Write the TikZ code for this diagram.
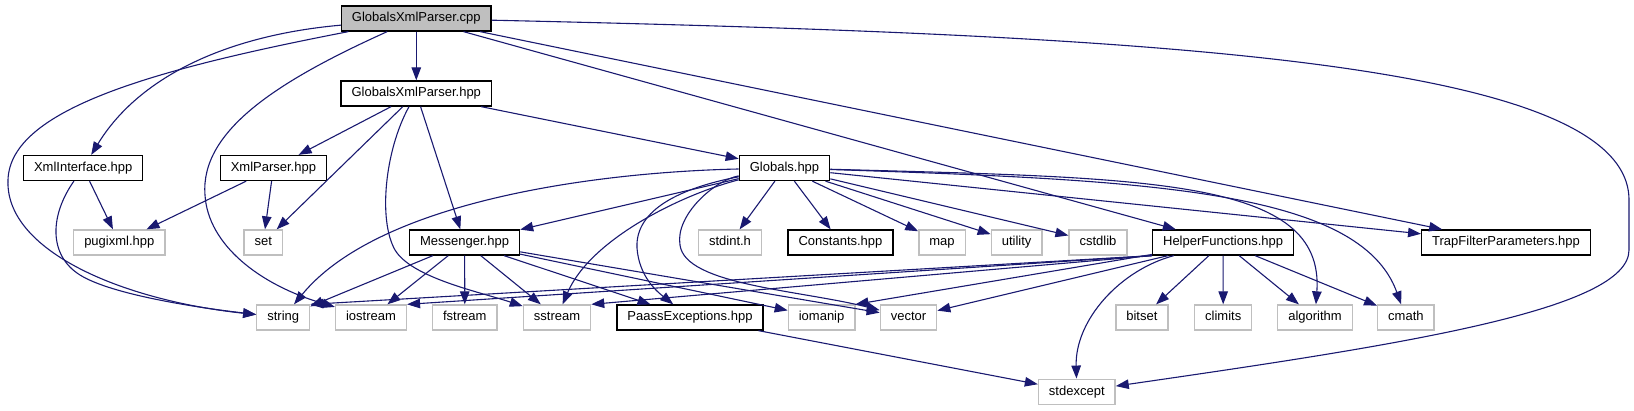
\documentclass[tikz,border=0pt]{standalone}
\usepackage{fontspec}
\setmainfont{Liberation Sans}
\usepackage{xcolor}
\usepackage{tikz}
\usetikzlibrary{
    arrows.meta,
    positioning
}
\definecolor{edgeblue}{HTML}{191970}
\definecolor{sysborder}{HTML}{BFBFBF}
\definecolor{rootfill}{HTML}{BFBFBF}
\tikzset{
    header/.style={
        rectangle, draw=black, fill=white,
        line width=1.3pt, minimum height=25pt,
        inner xsep=10.5pt, inner ysep=0pt,
        text height=9.5pt, text depth=2.8pt,
        font=\fontsize{13}{15}\selectfont
    },
    system header/.style={
        header, draw=sysborder
    },
    root file/.style={
        header, fill=rootfill
    },
    include/.style={
        -{Triangle[length=13pt, width=9.5pt]}, line width=1.1pt, color=edgeblue
    },
}

\begin{document}
\begin{tikzpicture}[x=1pt, y=-1pt]
    \useasboundingbox (0,0) rectangle (1634,411);

    % top rows
    \node[root file] (cpp) at (416.3,18.5) {GlobalsXmlParser.cpp};
    \node[header] (gxhpp) at (416.3,93.5) {GlobalsXmlParser.hpp};
    \node[header] (xi) at (83.2,168) {XmlInterface.hpp};
    \node[header] (xp) at (273.4,168) {XmlParser.hpp};
    \node[header] (glob) at (784.5,168) {Globals.hpp};

    % middle row
    \node[system header] (pug) at (119.3,242.5) {pugixml.hpp};
    \node[system header] (set) at (263.2,242.5) {set};
    \node[header] (msg) at (464.6,242.5) {Messenger.hpp};
    \node[system header] (stdint) at (730,242.5) {stdint.h};
    \node[header] (const) at (840.5,242.5) {Constants.hpp};
    \node[system header] (map) at (942,242.5) {map};
    \node[system header] (util) at (1016.6,242.5) {utility};
    \node[system header] (cstdlib) at (1098,242.5) {cstdlib};
    \node[header] (helper) at (1223.1,242.5) {HelperFunctions.hpp};
    \node[header] (trap) at (1506,242.5) {TrapFilterParameters.hpp};

    % bottom rows
    \node[system header] (string) at (283.2,317.5) {string};
    \node[system header] (iostream) at (371,317.5) {iostream};
    \node[system header] (fstream) at (464.8,317.5) {fstream};
    \node[system header] (sstream) at (557,317.5) {sstream};
    \node[header] (paass) at (690,317.5) {PaassExceptions.hpp};
    \node[system header] (iomanip) at (821.6,317.5) {iomanip};
    \node[system header] (vector) at (908.5,317.5) {vector};
    \node[system header] (bitset) at (1141.9,317.5) {bitset};
    \node[system header] (climits) at (1223.2,317.5) {climits};
    \node[system header] (algorithm) at (1315,317.5) {algorithm};
    \node[system header] (cmath) at (1405.9,317.5) {cmath};
    \node[system header] (stdexcept) at (1076.8,391.7) {stdexcept};

    % GlobalsXmlParser.cpp
    \draw[include] (cpp) -- (gxhpp);
    \draw[include] (cpp) .. controls (230,35) and (140,75) .. (xi);
    \draw[include] (cpp) .. controls (150,70) and (10,110) .. (8,180)
        .. controls (5,250) and (120,300) .. (string);
    \draw[include] (cpp) .. controls (280,80) and (200,130) .. (205,195)
        .. controls (208,245) and (260,285) .. (iostream);
    \draw[include] (cpp) -- (helper);
    \draw[include] (cpp) -- (trap);
    \draw[include] (cpp) .. controls (1150,35) and (1629,60) .. (1629,200) -- (1629,250)
        .. controls (1629,310) and (1400,345) .. (stdexcept);

    % GlobalsXmlParser.hpp
    \draw[include] (gxhpp) -- (xp);
    \draw[include] (gxhpp) -- (set);
    \draw[include] (gxhpp) .. controls (385,150) and (378,220) .. (395,250)
        .. controls (412,278) and (480,292) .. (sstream);
    \draw[include] (gxhpp) -- (msg);
    \draw[include] (gxhpp) -- (glob);

    % XmlInterface.hpp and XmlParser.hpp
    \draw[include] (xi) -- (pug);
    \draw[include] (xi) .. controls (50,215) and (48,255) .. (80,275)
        .. controls (112,295) and (200,308) .. (string);
    \draw[include] (xp) -- (pug);
    \draw[include] (xp) -- (set);

    % Globals.hpp
    \draw[include] (glob) .. controls (600,172) and (380,200) .. (string);
    \draw[include] (glob) -- (msg);
    \draw[include] (glob) .. controls (680,195) and (590,240) .. (sstream);
    \draw[include] (glob) .. controls (680,188) and (635,210) .. (637,248)
        .. controls (639,275) and (655,290) .. (paass);
    \draw[include] (glob) .. controls (715,180) and (675,215) .. (680,245)
        .. controls (685,285) and (800,290) .. (vector);
    \draw[include] (glob) -- (stdint);
    \draw[include] (glob) -- (const);
    \draw[include] (glob) -- (map);
    \draw[include] (glob) -- (util);
    \draw[include] (glob) -- (cstdlib);
    \draw[include] (glob) .. controls (1150,178) and (1325,178) .. (algorithm);
    \draw[include] (glob) .. controls (1150,180) and (1360,190) .. (cmath);
    \draw[include] (glob) -- (trap);

    % Messenger.hpp
    \draw[include] (msg) -- (string);
    \draw[include] (msg) -- (iostream);
    \draw[include] (msg) -- (fstream);
    \draw[include] (msg) -- (sstream);
    \draw[include] (msg) -- (paass);
    \draw[include] (msg) -- (iomanip);
    \draw[include] (msg) -- (vector);

    % HelperFunctions.hpp
    \draw[include] (helper.south west) -- (string.north east);
    \draw[include] (helper.south west) -- (iostream.north east);
    \draw[include] (helper.south west) -- (sstream.north east);
    \draw[include] (helper) -- (iomanip.north east);
    \draw[include] (helper) -- (vector);
    \draw[include] (helper) .. controls (1120,270) and (1075,320) .. (stdexcept);
    \draw[include] (helper) -- (bitset);
    \draw[include] (helper) -- (climits);
    \draw[include] (helper) -- (algorithm);
    \draw[include] (helper) -- (cmath);

    % PaassExceptions.hpp
    \draw[include] (paass) -- (stdexcept);
\end{tikzpicture}
\end{document}
